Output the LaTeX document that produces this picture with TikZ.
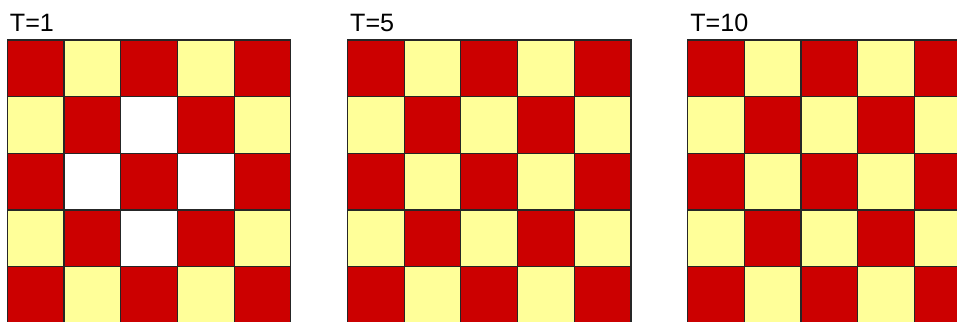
\documentclass[tikz,border=0pt]{standalone}
\usepackage{fontspec}
\setmainfont{Liberation Sans}
\definecolor{CellRed}{HTML}{CC0000}
\definecolor{CellYellow}{HTML}{FFFF99}
\tikzset{
  cell/.style={draw=black!85, line width=0.6pt},
  stamp/.style={anchor=base west, inner sep=0pt, font=\fontsize{12.6}{15}\selectfont}
}

\begin{document}
\begin{tikzpicture}
  \useasboundingbox (-0.129,0.03) rectangle (16.75,5.705);
  \clip (-0.129,0.03) rectangle (16.75,5.705);
  % three boards, one per time step
  \foreach \g/\t in {0/1,6/5,12/10} {
    \node[stamp] (lbl\t) at (\g+0.04,5.147) {T=\t};
    \foreach \i in {0,...,4} {
      \foreach \j in {0,...,4} {
        \pgfmathtruncatemacro\parity{mod(\i+\j,2)}
        \ifnum\parity=0 \def\col{CellRed}\else\def\col{CellYellow}\fi
        \fill[\col] (\g+\i,\j) rectangle ++(1,1);
      }
    }
  }
  % empty cells of the first board
  \foreach \i/\j in {2/3,1/2,3/2,2/1}
    \fill[white] (\i,\j) rectangle ++(1,1);
  % grid lines
  \foreach \g in {0,6,12}
    \foreach \i in {0,...,4}
      \foreach \j in {0,...,4}
        \draw[cell] (\g+\i,\j) rectangle ++(1,1);
\end{tikzpicture}
\end{document}
